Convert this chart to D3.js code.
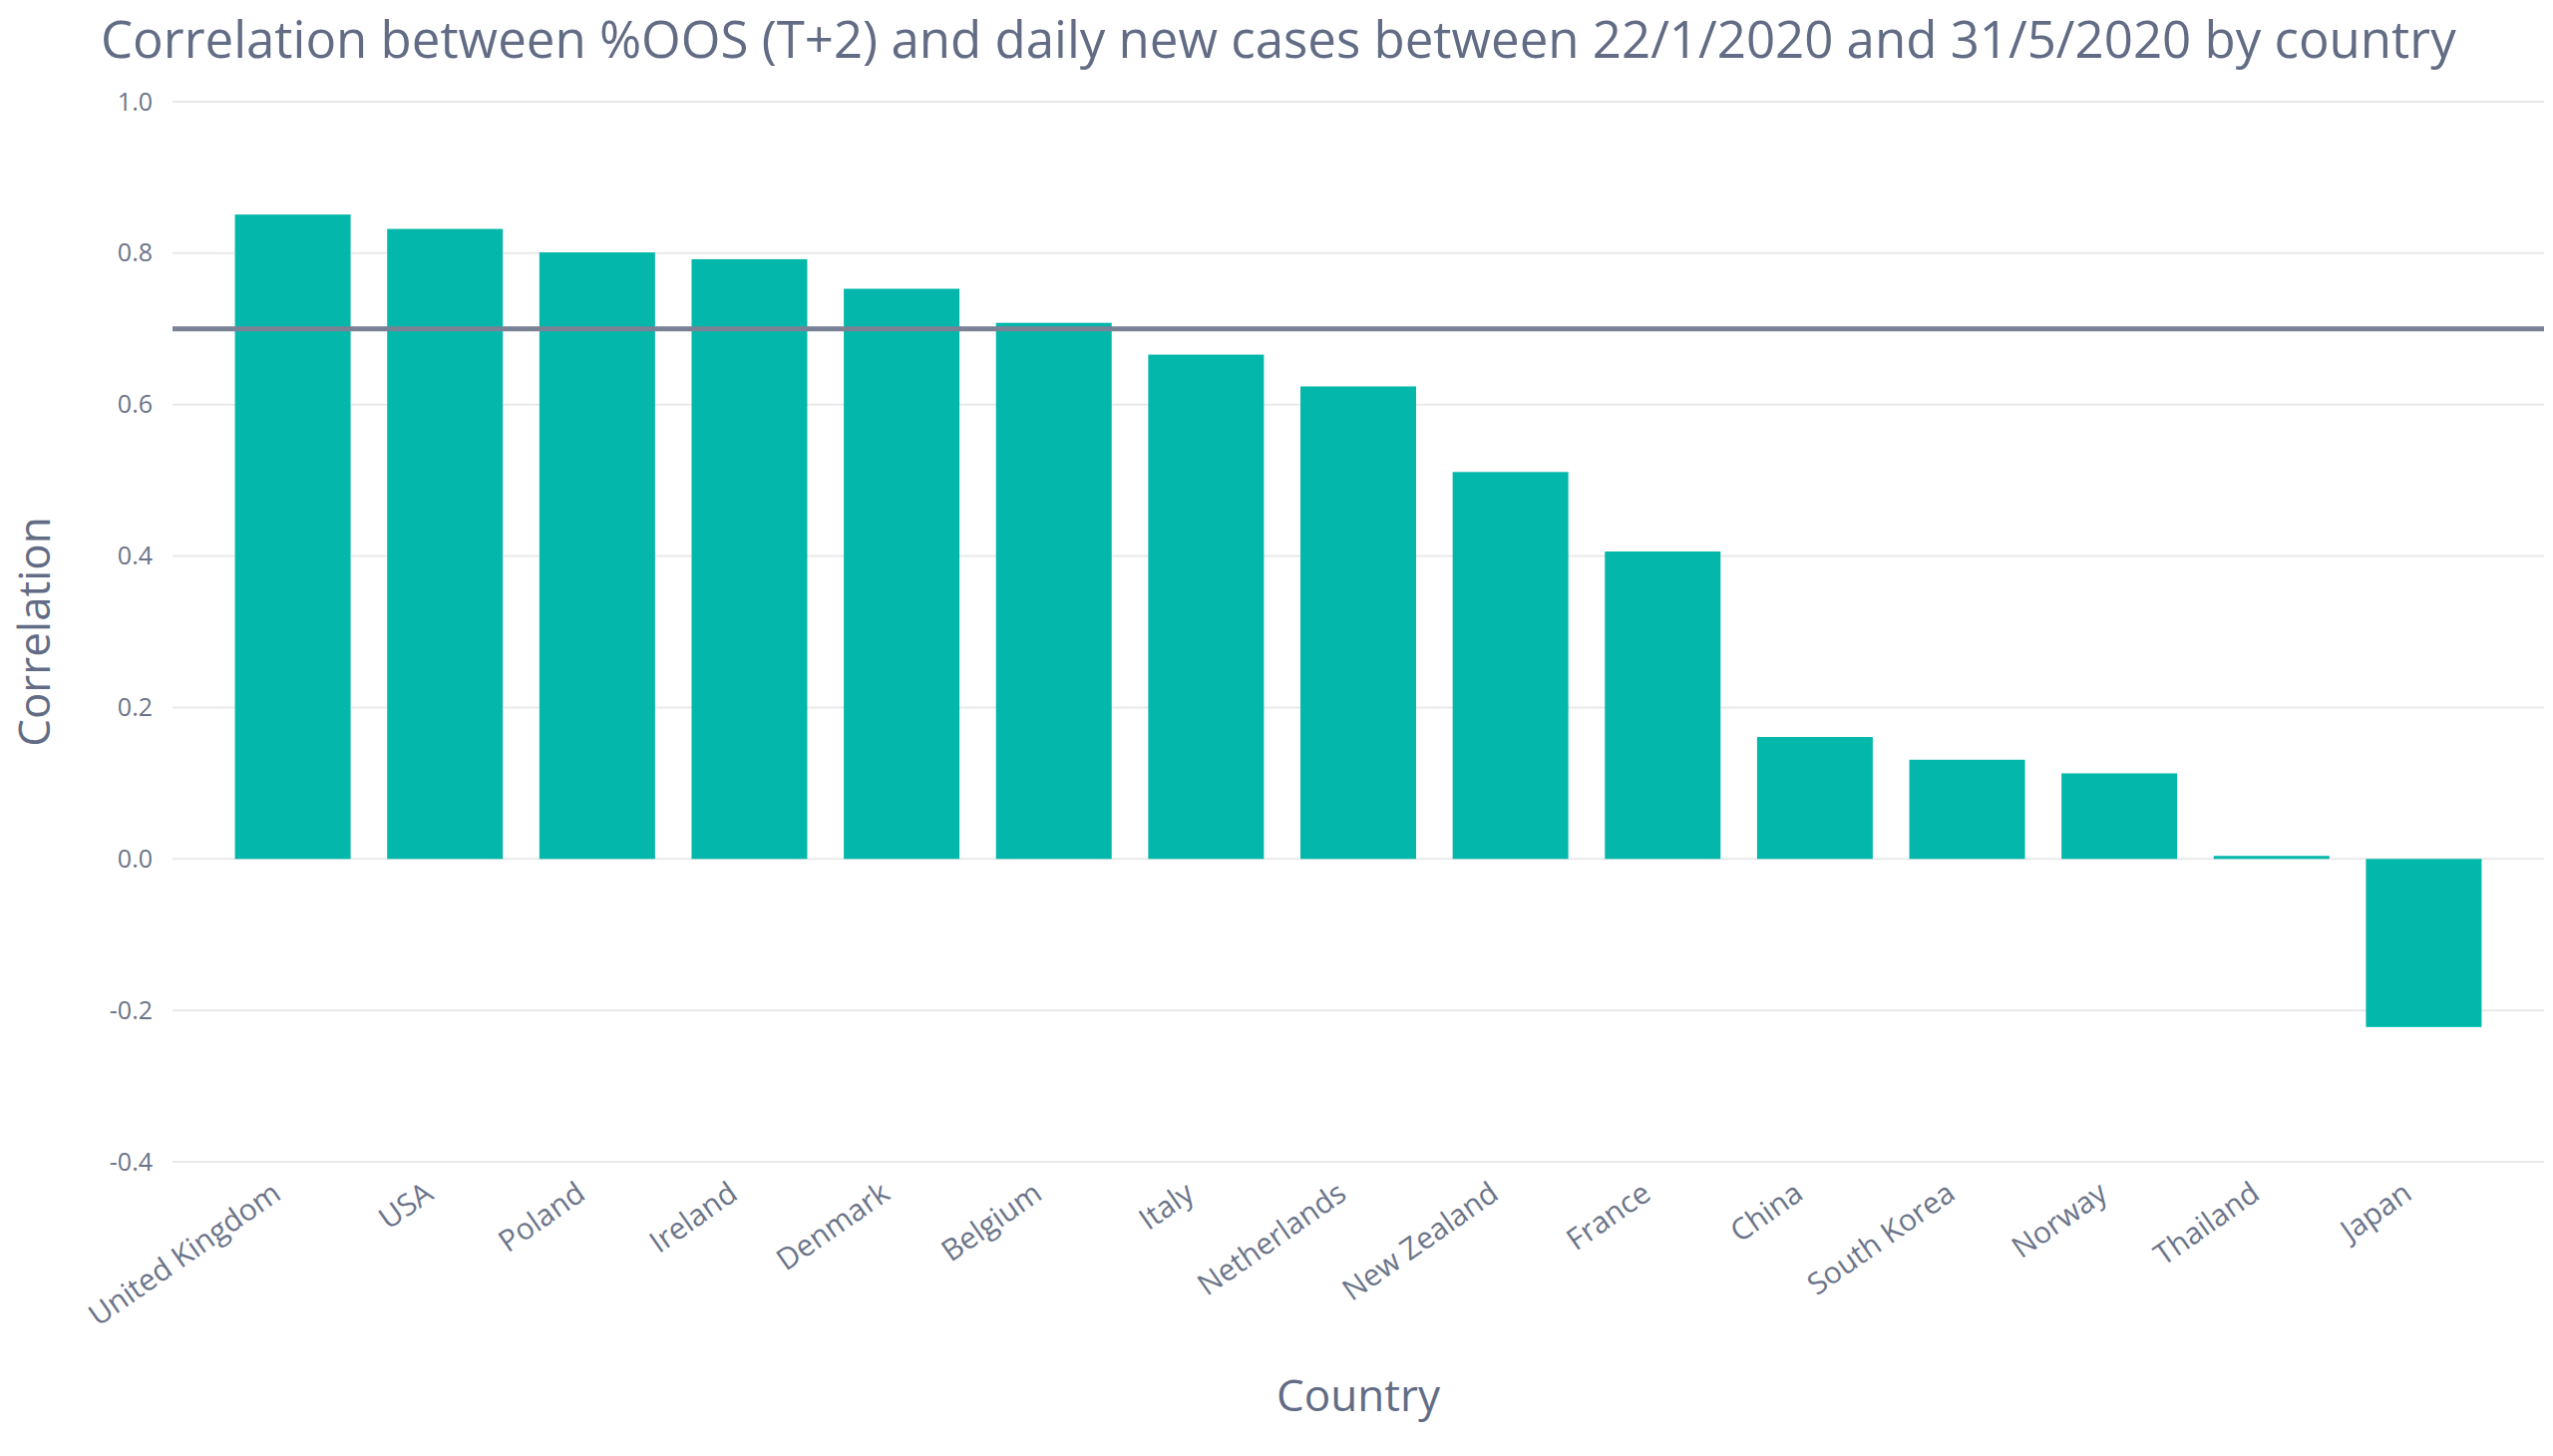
<!DOCTYPE html>
<html>
<head>
<meta charset="utf-8">
<script src="https://cdn.jsdelivr.net/npm/d3@7"></script>
<style>
  html, body { margin: 0; padding: 0; background: #ffffff; }
  svg { display: block; }
</style>
</head>
<body>
<svg id="chart" width="2560" height="1460"></svg>
<script>
const categories = ["United Kingdom", "USA", "Poland", "Ireland", "Denmark", "Belgium", "Italy",
  "Netherlands", "New Zealand", "France", "China", "South Korea", "Norway", "Thailand", "Japan"];
const correlations = [0.851, 0.832, 0.801, 0.792, 0.753, 0.708, 0.666,
  0.624, 0.511, 0.406, 0.161, 0.131, 0.113, 0.004, -0.222];
const yTickValues = [-0.4, -0.2, 0.0, 0.2, 0.4, 0.6, 0.8, 1.0];
const thresholdValue = 0.7;
const titleText = "Correlation between %OOS (T+2) and daily new cases between 22/1/2020 and 31/5/2020 by country";
const xTitle = "Country";
const yTitle = "Correlation";

const W = 2560, H = 1460;
const margin = { left: 173, right: 9, top: 102, bottom: 295 };
const font = "'Open Sans', 'Noto Sans', sans-serif";
const textColor = "#626c85";
const tickColor = "#6b7489";

const svg = d3.select("#chart");
svg.append("rect").attr("width", W).attr("height", H).attr("fill", "#fff");

const x = d3.scaleBand()
  .domain(categories)
  .range([margin.left, W - margin.right])
  .paddingInner(0.24)
  .paddingOuter(0.41);

const y = d3.scaleLinear()
  .domain([-0.4, 1.0])
  .range([H - margin.bottom, margin.top]);

// gridlines
svg.append("g").selectAll("line")
  .data(yTickValues)
  .join("line")
  .attr("x1", margin.left)
  .attr("x2", W - margin.right)
  .attr("y1", d => y(d))
  .attr("y2", d => y(d))
  .attr("stroke", "#e9e9e9")
  .attr("stroke-width", 2);

// y axis labels
const yAxis = d3.axisLeft(y).tickValues(yTickValues).tickFormat(d => d.toFixed(1)).tickSize(0).tickPadding(20);
const yg = svg.append("g").attr("transform", `translate(${margin.left},0)`).call(yAxis);
yg.select(".domain").remove();
yg.selectAll("text")
  .attr("font-family", font)
  .attr("font-size", 25)
  .attr("fill", tickColor);

// bars
svg.append("g").selectAll("rect")
  .data(categories.map((c, i) => ({ c, v: correlations[i] })))
  .join("rect")
  .attr("x", d => x(d.c))
  .attr("width", x.bandwidth())
  .attr("y", d => y(Math.max(0, d.v)))
  .attr("height", d => Math.abs(y(d.v) - y(0)))
  .attr("fill", "#03b8aa");

// threshold line
svg.append("line")
  .attr("x1", margin.left)
  .attr("x2", W - margin.right)
  .attr("y1", y(thresholdValue))
  .attr("y2", y(thresholdValue))
  .attr("stroke", "#7a8296")
  .attr("stroke-width", 5);

// x axis labels
const xAxis = d3.axisBottom(x).tickSize(0).tickPadding(0);
const xg = svg.append("g").attr("transform", `translate(0,${H - margin.bottom})`).call(xAxis);
xg.select(".domain").remove();
xg.selectAll(".tick text")
  .attr("font-family", font)
  .attr("font-size", 30)
  .attr("fill", tickColor)
  .attr("text-anchor", "end")
  .attr("dy", null)
  .attr("y", 0)
  .attr("transform", "translate(-10,36) rotate(-35)");

// title
svg.append("text")
  .attr("x", 101)
  .attr("y", 58)
  .attr("font-family", font)
  .attr("font-size", 51)
  .attr("fill", textColor)
  .text(titleText);

// axis titles
svg.append("text")
  .attr("x", (margin.left + W - margin.right) / 2)
  .attr("y", 1415)
  .attr("text-anchor", "middle")
  .attr("font-family", font)
  .attr("font-size", 44)
  .attr("fill", textColor)
  .text(xTitle);

svg.append("text")
  .attr("transform", `translate(50,${(y(-0.4) + y(1.0)) / 2}) rotate(-90)`)
  .attr("text-anchor", "middle")
  .attr("font-family", font)
  .attr("font-size", 44)
  .attr("fill", textColor)
  .text(yTitle);
</script>
</body>
</html>
